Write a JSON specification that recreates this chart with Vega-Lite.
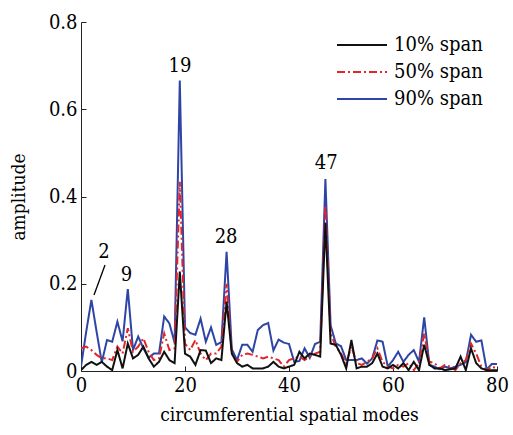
{
  "$schema": "https://vega.github.io/schema/vega-lite/v6.json",
  "width": 416,
  "height": 349,
  "autosize": {"type": "none"},
  "padding": {"left": 81, "top": 22, "right": 16, "bottom": 64},
  "background": "white",
  "config": {
    "view": {"stroke": null},
    "font": "DejaVu Serif Condensed",
    "axis": {"labelFont": "DejaVu Serif Condensed", "titleFont": "DejaVu Serif Condensed", "labelFontSize": 20, "titleFontSize": 19, "titleFontWeight": "normal", "labelColor": "black", "titleColor": "black", "domainColor": "#222", "tickColor": "#222", "grid": false, "labelFlush": false}
  },
  "datasets": {
    "spec": [
      {"m": 0, "10% span": 0.002, "50% span": 0.052, "90% span": 0.01},
      {"m": 1, "10% span": 0.014, "50% span": 0.056, "90% span": 0.09},
      {"m": 2, "10% span": 0.021, "50% span": 0.048, "90% span": 0.163},
      {"m": 3, "10% span": 0.014, "50% span": 0.037, "90% span": 0.09},
      {"m": 4, "10% span": 0.021, "50% span": 0.029, "90% span": 0.02},
      {"m": 5, "10% span": 0.01, "50% span": 0.029, "90% span": 0.071},
      {"m": 6, "10% span": 0.002, "50% span": 0.025, "90% span": 0.067},
      {"m": 7, "10% span": 0.048, "50% span": 0.056, "90% span": 0.113},
      {"m": 8, "10% span": 0.006, "50% span": 0.04, "90% span": 0.068},
      {"m": 9, "10% span": 0.063, "50% span": 0.098, "90% span": 0.188},
      {"m": 10, "10% span": 0.029, "50% span": 0.044, "90% span": 0.048},
      {"m": 11, "10% span": 0.037, "50% span": 0.056, "90% span": 0.079},
      {"m": 12, "10% span": 0.056, "50% span": 0.075, "90% span": 0.052},
      {"m": 13, "10% span": 0.029, "50% span": 0.044, "90% span": 0.03},
      {"m": 14, "10% span": 0.01, "50% span": 0.025, "90% span": 0.04},
      {"m": 15, "10% span": 0.021, "50% span": 0.029, "90% span": 0.04},
      {"m": 16, "10% span": 0.044, "50% span": 0.086, "90% span": 0.125},
      {"m": 17, "10% span": 0.025, "50% span": 0.048, "90% span": 0.109},
      {"m": 18, "10% span": 0.018, "50% span": 0.052, "90% span": 0.065},
      {"m": 19, "10% span": 0.228, "50% span": 0.434, "90% span": 0.666},
      {"m": 20, "10% span": 0.04, "50% span": 0.063, "90% span": 0.1},
      {"m": 21, "10% span": 0.033, "50% span": 0.048, "90% span": 0.087},
      {"m": 22, "10% span": 0.014, "50% span": 0.071, "90% span": 0.083},
      {"m": 23, "10% span": 0.048, "50% span": 0.04, "90% span": 0.12},
      {"m": 24, "10% span": 0.047, "50% span": 0.025, "90% span": 0.067},
      {"m": 25, "10% span": 0.018, "50% span": 0.04, "90% span": 0.1},
      {"m": 26, "10% span": 0.029, "50% span": 0.04, "90% span": 0.06},
      {"m": 27, "10% span": 0.025, "50% span": 0.056, "90% span": 0.066},
      {"m": 28, "10% span": 0.159, "50% span": 0.2, "90% span": 0.273},
      {"m": 29, "10% span": 0.04, "50% span": 0.04, "90% span": 0.05},
      {"m": 30, "10% span": 0.018, "50% span": 0.021, "90% span": 0.025},
      {"m": 31, "10% span": 0.01, "50% span": 0.037, "90% span": 0.06},
      {"m": 32, "10% span": 0.014, "50% span": 0.04, "90% span": 0.06},
      {"m": 33, "10% span": 0.006, "50% span": 0.037, "90% span": 0.044},
      {"m": 34, "10% span": 0.006, "50% span": 0.033, "90% span": 0.094},
      {"m": 35, "10% span": 0.006, "50% span": 0.029, "90% span": 0.105},
      {"m": 36, "10% span": 0.01, "50% span": 0.033, "90% span": 0.11},
      {"m": 37, "10% span": 0.021, "50% span": 0.029, "90% span": 0.047},
      {"m": 38, "10% span": 0.01, "50% span": 0.025, "90% span": 0.072},
      {"m": 39, "10% span": 0.006, "50% span": 0.01, "90% span": 0.065},
      {"m": 40, "10% span": 0.01, "50% span": 0.025, "90% span": 0.062},
      {"m": 41, "10% span": 0.014, "50% span": 0.029, "90% span": 0.021},
      {"m": 42, "10% span": 0.044, "50% span": 0.033, "90% span": 0.023},
      {"m": 43, "10% span": 0.029, "50% span": 0.025, "90% span": 0.052},
      {"m": 44, "10% span": 0.04, "50% span": 0.033, "90% span": 0.03},
      {"m": 45, "10% span": 0.037, "50% span": 0.04, "90% span": 0.062},
      {"m": 46, "10% span": 0.033, "50% span": 0.044, "90% span": 0.067},
      {"m": 47, "10% span": 0.34, "50% span": 0.38, "90% span": 0.44},
      {"m": 48, "10% span": 0.063, "50% span": 0.086, "90% span": 0.105},
      {"m": 49, "10% span": 0.06, "50% span": 0.056, "90% span": 0.063},
      {"m": 50, "10% span": 0.037, "50% span": 0.04, "90% span": 0.057},
      {"m": 51, "10% span": 0.006, "50% span": 0.018, "90% span": 0.025},
      {"m": 52, "10% span": 0.071, "50% span": 0.056, "90% span": 0.025},
      {"m": 53, "10% span": 0.006, "50% span": 0.018, "90% span": 0.025},
      {"m": 54, "10% span": 0.01, "50% span": 0.014, "90% span": 0.029},
      {"m": 55, "10% span": 0.01, "50% span": 0.021, "90% span": 0.017},
      {"m": 56, "10% span": 0.018, "50% span": 0.029, "90% span": 0.029},
      {"m": 57, "10% span": 0.04, "50% span": 0.052, "90% span": 0.07},
      {"m": 58, "10% span": 0.01, "50% span": 0.021, "90% span": 0.067},
      {"m": 59, "10% span": 0.006, "50% span": 0.01, "90% span": 0.01},
      {"m": 60, "10% span": 0.014, "50% span": 0.006, "90% span": 0.025},
      {"m": 61, "10% span": 0.006, "50% span": 0.014, "90% span": 0.044},
      {"m": 62, "10% span": 0.018, "50% span": 0.01, "90% span": 0.021},
      {"m": 63, "10% span": 0.002, "50% span": 0.018, "90% span": 0.037},
      {"m": 64, "10% span": 0.021, "50% span": 0.002, "90% span": 0.048},
      {"m": 65, "10% span": 0.002, "50% span": 0.018, "90% span": 0.021},
      {"m": 66, "10% span": 0.06, "50% span": 0.086, "90% span": 0.123},
      {"m": 67, "10% span": 0.014, "50% span": 0.021, "90% span": 0.014},
      {"m": 68, "10% span": 0.006, "50% span": 0.018, "90% span": 0.01},
      {"m": 69, "10% span": 0.006, "50% span": 0.006, "90% span": 0.004},
      {"m": 70, "10% span": 0.002, "50% span": 0.014, "90% span": 0.01},
      {"m": 71, "10% span": 0.004, "50% span": 0.01, "90% span": 0.006},
      {"m": 72, "10% span": 0.006, "50% span": 0.002, "90% span": 0.01},
      {"m": 73, "10% span": 0.033, "50% span": 0.018, "90% span": 0.014},
      {"m": 74, "10% span": 0.002, "50% span": 0.025, "90% span": 0.02},
      {"m": 75, "10% span": 0.052, "50% span": 0.063, "90% span": 0.083},
      {"m": 76, "10% span": 0.018, "50% span": 0.04, "90% span": 0.067},
      {"m": 77, "10% span": 0.006, "50% span": 0.01, "90% span": 0.07},
      {"m": 78, "10% span": 0.002, "50% span": 0.002, "90% span": 0.004},
      {"m": 79, "10% span": 0.002, "50% span": 0.01, "90% span": 0.016},
      {"m": 80, "10% span": 0.002, "50% span": 0.006, "90% span": 0.016}
    ],
    "labels": [
      {"x": 4.43, "y": 0.272, "t": "2"},
      {"x": 8.72, "y": 0.22, "t": "9"},
      {"x": 19.05, "y": 0.698, "t": "19"},
      {"x": 27.9, "y": 0.308, "t": "28"},
      {"x": 47.15, "y": 0.476, "t": "47"}
    ],
    "slash": [
      {"x": 2.5, "y": 0.174, "x2": 4.62, "y2": 0.243}
    ]
  },
  "layer": [
    {
      "data": {"name": "spec"},
      "transform": [{"fold": ["90% span", "50% span", "10% span"], "as": ["series", "amp"]}],
      "mark": {"type": "line", "clip": true},
      "encoding": {
        "x": {"field": "m", "type": "quantitative", "scale": {"domain": [0, 80], "nice": false}, "axis": {"values": [0, 20, 40, 60, 80], "tickSize": -5, "labelPadding": 9, "title": "circumferential spatial modes", "titlePadding": 10}},
        "y": {"field": "amp", "type": "quantitative", "scale": {"domain": [0, 0.8], "nice": false}, "axis": {"values": [0, 0.2, 0.4, 0.6, 0.8], "format": ".1~f", "tickSize": -5, "labelPadding": 9, "title": "amplitude", "titlePadding": 20}},
        "color": {"field": "series", "type": "nominal", "scale": {"domain": ["10% span", "50% span", "90% span"], "range": ["#111111", "#e0262a", "#2e45a6"]},
          "legend": {"title": null, "orient": "none", "legendX": 271, "legendY": 13, "symbolType": "M-5,0H5", "symbolSize": 100, "symbolStrokeWidth": 2.5, "labelFont": "DejaVu Serif Condensed", "labelFontSize": 20, "labelColor": "black", "labelOffset": 22, "rowPadding": 7, "padding": 0}},
        "strokeDash": {"field": "series", "type": "nominal", "scale": {"domain": ["10% span", "50% span", "90% span"], "range": [[1, 0], [8, 3, 2, 3], [1, 0]]}, "legend": null},
        "strokeWidth": {"field": "series", "type": "nominal", "scale": {"domain": ["10% span", "50% span", "90% span"], "range": [2, 2, 2.6]}, "legend": null}
      }
    },
    {
      "data": {"name": "labels"},
      "mark": {"type": "text", "font": "DejaVu Serif Condensed", "fontSize": 20, "color": "black", "align": "center", "baseline": "middle"},
      "encoding": {
        "x": {"field": "x", "type": "quantitative"},
        "y": {"field": "y", "type": "quantitative"},
        "text": {"field": "t"}
      }
    },
    {
      "data": {"name": "slash"},
      "mark": {"type": "rule", "color": "black", "strokeWidth": 1.3},
      "encoding": {
        "x": {"field": "x", "type": "quantitative"},
        "y": {"field": "y", "type": "quantitative"},
        "x2": {"field": "x2"},
        "y2": {"field": "y2"}
      }
    },
    {
      "mark": {"type": "rule", "color": "#222", "strokeWidth": 1},
      "encoding": {"x": {"datum": 80}}
    }
  ]
}
